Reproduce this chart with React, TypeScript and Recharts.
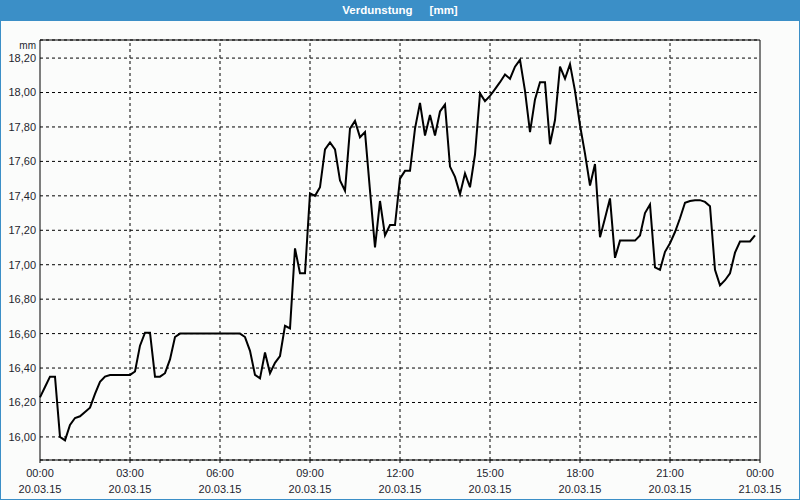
import React from 'react';
import { LineChart, Line, XAxis, YAxis, CartesianGrid, ReferenceLine } from 'recharts';

// Verdunstung [mm], 10-minute readings from 20.03.15 00:00 to 23:50
const evaporation = [
  16.23, 16.29, 16.35, 16.35, 16.0, 15.98, 16.07, 16.11, 16.12, 16.145,
  16.17, 16.25, 16.32, 16.35, 16.36, 16.36, 16.36, 16.36, 16.36, 16.38,
  16.53, 16.605, 16.605, 16.35, 16.35, 16.37, 16.45, 16.58, 16.6, 16.6,
  16.6, 16.6, 16.6, 16.6, 16.6, 16.6, 16.6, 16.6, 16.6, 16.6,
  16.6, 16.58, 16.5, 16.36, 16.34, 16.49, 16.37, 16.43, 16.47, 16.645,
  16.63, 17.095, 16.95, 16.95, 17.415, 17.4, 17.45, 17.67, 17.71, 17.67,
  17.49, 17.43, 17.79, 17.835, 17.74, 17.77, 17.43, 17.1, 17.37, 17.17,
  17.23, 17.23, 17.5, 17.545, 17.545, 17.79, 17.94, 17.75, 17.87, 17.75,
  17.89, 17.93, 17.57, 17.51, 17.41, 17.53, 17.45, 17.64, 17.995, 17.95,
  17.98, 18.02, 18.06, 18.105, 18.08, 18.15, 18.19, 18.01, 17.77, 17.96,
  18.06, 18.06, 17.7, 17.84, 18.15, 18.08, 18.165, 18.01, 17.81, 17.645,
  17.46, 17.585, 17.16, 17.27, 17.385, 17.04, 17.14, 17.14, 17.14, 17.14,
  17.17, 17.3, 17.35, 16.985, 16.97, 17.075, 17.125, 17.19, 17.27, 17.36,
  17.37, 17.375, 17.375, 17.365, 17.34, 16.97, 16.88, 16.91, 16.95, 17.07,
  17.135, 17.135, 17.135, 17.17,
];

const stepMinutes = 10;
const majorTicks = [0, 180, 360, 540, 720, 900, 1080, 1260, 1440];
const hourLabels = ['00:00', '03:00', '06:00', '09:00', '12:00', '15:00', '18:00', '21:00', '00:00'];
const dateLabels = ['20.03.15', '20.03.15', '20.03.15', '20.03.15', '20.03.15', '20.03.15', '20.03.15', '20.03.15', '21.03.15'];
const hourTicks = [0, 60, 120, 180, 240, 300, 360, 420, 480, 540, 600, 660, 720, 780, 840, 900, 960, 1020, 1080, 1140, 1200, 1260, 1320, 1380, 1440];
const yTicks = [16.0, 16.2, 16.4, 16.6, 16.8, 17.0, 17.2, 17.4, 17.6, 17.8, 18.0, 18.2];
const yDomain = [15.866, 18.305];

const data = evaporation.map((v, i) => ({ t: i * stepMinutes, v }));

const FONT = '"Liberation Sans", Arial, sans-serif';
const TEXT = '#1e1e2e';

const XTick = (props: any) => {
  const { x, y, payload } = props;
  const idx = majorTicks.indexOf(payload.value);
  if (idx < 0) return <g />;
  return (
    <g>
      <text x={x} y={y + 12} textAnchor="middle" fontSize={11} fontFamily={FONT} fill={TEXT}>
        {hourLabels[idx]}
      </text>
      <text x={x} y={y + 28} textAnchor="middle" fontSize={11} fontFamily={FONT} fill={TEXT}>
        {dateLabels[idx]}
      </text>
    </g>
  );
};

export default function App() {
  return (
    <div
      style={{
        position: 'fixed',
        left: 0,
        top: 0,
        width: 800,
        height: 500,
        background: '#fbfcfb',
        boxSizing: 'border-box',
        border: '1px solid #3b8fc7',
        overflow: 'hidden',
      }}
    >
      <div
        style={{
          position: 'absolute',
          left: -1,
          top: -1,
          width: 800,
          height: 21,
          background: '#3b8fc7',
          color: '#ffffff',
          fontFamily: FONT,
          fontWeight: 'bold',
          fontSize: 11.5,
          lineHeight: '21px',
          textAlign: 'center',
        }}
      >
        <span>Verdunstung</span>
        <span style={{ marginLeft: 17 }}>[mm]</span>
      </div>
      <div
        style={{
          position: 'absolute',
          left: 0,
          top: 39,
          width: 35,
          textAlign: 'right',
          fontFamily: FONT,
          fontSize: 10,
          color: TEXT,
        }}
      >
        mm
      </div>
      <div style={{ position: 'absolute', left: -1, top: -1 }}>
        <LineChart width={800} height={500} data={data} margin={{ top: 40, right: 40, bottom: 0, left: 0 }}>
          <CartesianGrid vertical={false} stroke="#000" strokeDasharray="3 3" />
          <XAxis
            dataKey="t"
            type="number"
            domain={[0, 1440]}
            ticks={hourTicks}
            interval={0}
            height={40}
            axisLine={{ stroke: '#000', strokeWidth: 1 }}
            tickLine={{ stroke: '#000' }}
            tickSize={3}
            tickMargin={2}
            tick={<XTick />}
          />
          <YAxis
            type="number"
            domain={yDomain}
            ticks={yTicks}
            interval={0}
            width={40}
            axisLine={{ stroke: '#000', strokeWidth: 1 }}
            tickLine={false}
            tickSize={2}
            tickMargin={2}
            tick={{ fontSize: 11, fontFamily: FONT, fill: TEXT }}
            tickFormatter={(v: number) => v.toFixed(2).replace('.', ',')}
            allowDataOverflow
          />
          {majorTicks.slice(1, -1).map((m) => (
            <ReferenceLine key={m} x={m} stroke="#000" strokeDasharray="3 3" />
          ))}
          <ReferenceLine x={1440} stroke="#000" />
          <ReferenceLine y={yDomain[1]} stroke="#000" />
          <Line
            type="linear"
            dataKey="v"
            stroke="#000"
            strokeWidth={2}
            dot={false}
            isAnimationActive={false}
          />
        </LineChart>
      </div>
    </div>
  );
}
